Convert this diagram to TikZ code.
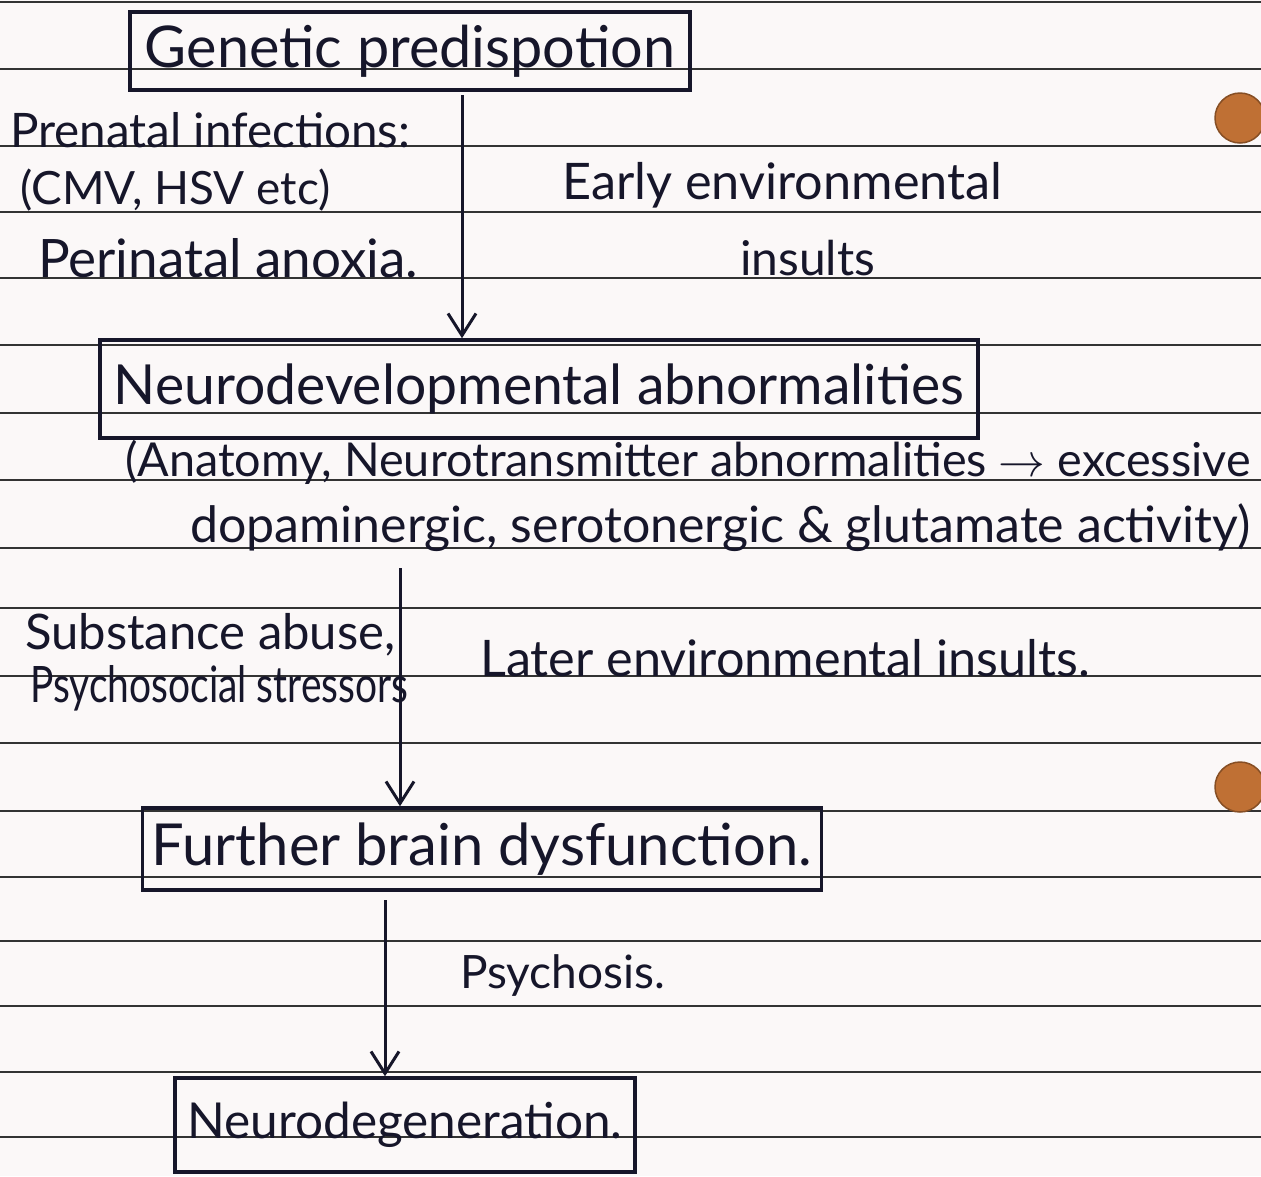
\documentclass[tikz,border=0pt]{standalone}
\usepackage{fontspec}
\setmainfont{Lato}
\usetikzlibrary{arrows.meta,calc}
\definecolor{ink}{HTML}{16162A}
\definecolor{holec}{HTML}{BF7034}
\definecolor{paper}{HTML}{FBF8F8}
\newcommand{\fw}[2]{\resizebox{#1pt}{!}{#2}}
\begin{document}
\begin{tikzpicture}[x=1pt,y=-1pt,
 rule/.style={draw=black!80, line width=1.5pt},
 box/.style={draw=ink, line width=3.5pt, inner sep=0pt, rectangle, text=ink},
 lbl/.style={anchor=west, inner sep=0pt, text=ink},
 arr/.style={draw=ink, line width=3pt, -{Straight Barb[length=22pt,width=28pt,line width=3pt]}},
 hole/.style={fill=holec, draw=holec!70!black, line width=1.5pt}]
 \fill[paper] (0,0) rectangle (1261,1176);
 \useasboundingbox (0,0) rectangle (1261,1176);
 % ruled lines
 \foreach \yy in {2,69,146,212,278,345,413,480,548,608,676,743,811,877,941,1006,1072,1137}
   \draw[rule] (0,\yy) -- (1261,\yy);
 % punch holes
 \filldraw[hole] (1240,118) circle (25);
 \filldraw[hole] (1240,787) circle (25);
 % boxes
 \node[box, minimum width=560pt, minimum height=78pt] (gen) at (410,51) {\fw{530}{Genetic predispotion}};
 \node[box, minimum width=878pt, minimum height=98pt] (neuro) at (539,389) {\fw{850}{Neurodevelopmental abnormalities}};
 \node[box, minimum width=679pt, minimum height=82pt] (further) at (482,849) {\fw{660}{Further brain dysfunction.}};
 \node[box, minimum width=460pt, minimum height=94pt] (ndeg) at (405,1125) {\fw{435}{Neurodegeneration.}};
 % labels
 \node[lbl] (t1) at (10,130) {\fw{400}{Prenatal infections:}};
 \node[lbl] (t2) at (20,190) {\fw{310}{(CMV, HSV etc)}};
 \node[lbl] (t3) at (38,258) {\fw{380}{Perinatal anoxia.}};
 \node[lbl] (t4) at (562,185) {\fw{440}{Early environmental}};
 \node[lbl] (t5) at (740,258) {\fw{135}{insults}};
 \node[lbl] (t6) at (125,462) {\fw{1125}{(Anatomy, Neurotransmitter abnormalities $\rightarrow$ excessive}};
 \node[lbl] (t7) at (190,528) {\fw{1060}{dopaminergic, serotonergic \& glutamate activity)}};
 \node[lbl] (t8) at (25,635) {\fw{370}{Substance abuse,}};
 \node[lbl] (t9) at (30,688) {\resizebox{378pt}{37pt}{Psychosocial stressors}};
 \node[lbl] (t10) at (480,658) {\fw{610}{Later environmental insults.}};
 \node[lbl] (t11) at (460,975) {\fw{205}{Psychosis.}};
 % connectors
 \coordinate (a1s) at (462,95);
 \coordinate (a2s) at (400,568);
 \coordinate (a3s) at (385,900);
 \draw[arr] (a1s) -- (a1s |- neuro.north);
 \draw[arr] (a2s) -- (a2s |- further.north);
 \draw[arr] (a3s) -- (a3s |- ndeg.north);
\end{tikzpicture}
\end{document}
